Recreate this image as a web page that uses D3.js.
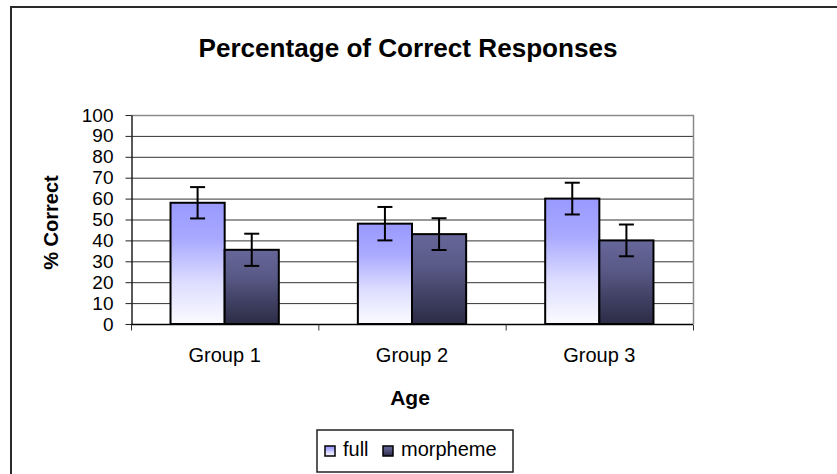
<!DOCTYPE html>
<meta charset="utf-8">
<style>
  body { margin: 0; background: #fff; }
  text { font-family: Arial, "Liberation Sans", sans-serif; }
</style>
<svg width="837" height="474"></svg>

<script src="https://d3js.org/d3.v7.min.js"></script>
<script>

var groups = ["Group 1", "Group 2", "Group 3"]
var series = ["full", "morpheme"]
var fullValues = [58, 48, 60]
var morphemeValues = [35.5, 43, 40]
var fullErrors = [7.5, 8, 7.6]
var morphemeErrors = [7.7, 7.6, 7.6]
var yTicks = [0, 10, 20, 30, 40, 50, 60, 70, 80, 90, 100]

var rows = []
groups.forEach(function (g, i) {
  rows.push({ group: g, key: "full", value: fullValues[i], err: fullErrors[i] })
  rows.push({ group: g, key: "morpheme", value: morphemeValues[i], err: morphemeErrors[i] })
})

var svg = d3.select("svg")
// note: "top" is taken by window.top, so plot edges get their own names
var plotLeft = 131, plotRight = 693, plotTop = 115, plotBottom = 324

// outer chart frame, runs off the right/bottom of the picture
svg.append("rect")
  .attr("x", 11).attr("y", 7)
  .attr("width", 900).attr("height", 600)
  .attr("fill", "none")
  .attr("stroke", "#2a2a2a")
  .attr("stroke-width", 2)

var defs = svg.append("defs")
function grad(id, stops) {
  var g = defs.append("linearGradient").attr("id", id)
    .attr("x1", 0).attr("y1", 0).attr("x2", 0).attr("y2", 1)
  stops.forEach(function (s) {
    g.append("stop").attr("offset", s[0]).attr("stop-color", s[1])
  })
}
grad("g-full", [[0, "#9999ff"], [0.3, "#a9a9ff"], [0.65, "#dcdcff"], [1, "#fbfbff"]])
grad("g-morpheme", [[0, "#666699"], [0.35, "#5a5a88"], [0.7, "#404063"], [1, "#2c2c46"]])
var fillFor = { full: "url(#g-full)", morpheme: "url(#g-morpheme)" }

var x0 = d3.scaleBand().domain(groups).range([plotLeft, plotRight])
var x1 = d3.scaleBand().domain(series).range([0, x0.bandwidth()]).paddingOuter(0.73)
var y = d3.scaleLinear().domain([0, 100]).range([plotBottom, plotTop])

// gridlines
svg.append("g").selectAll("line")
  .data(yTicks.slice(1, -1))
  .enter().append("line")
    .attr("x1", plotLeft).attr("x2", plotRight)
    .attr("y1", function (d) { return y(d) + 0.5 })
    .attr("y2", function (d) { return y(d) + 0.5 })
    .attr("stroke", "#333")
    .attr("stroke-width", 1)

// top and right of the plot box
svg.append("path")
  .attr("d", "M" + plotLeft + "," + (y(100) + 0.5) + "H" + (plotRight + 0.5) + "V" + plotBottom)
  .attr("fill", "none")
  .attr("stroke", "#8a8a8a")
  .attr("stroke-width", 1.5)

// bars
svg.append("g").selectAll("rect")
  .data(rows)
  .enter().append("rect")
    .attr("x", function (d) { return x0(d.group) + x1(d.key) })
    .attr("y", function (d) { return y(d.value) })
    .attr("width", x1.bandwidth())
    .attr("height", function (d) { return y(0) - y(d.value) })
    .attr("fill", function (d) { return fillFor[d.key] })
    .attr("stroke", "#000")
    .attr("stroke-width", 2)

// error bars
function barMid(d) { return x0(d.group) + x1(d.key) + x1.bandwidth() / 2 }
var eb = svg.append("g").selectAll("g")
  .data(rows)
  .enter().append("g")
    .attr("stroke", "#000")
    .attr("stroke-width", 2)
eb.append("line")
  .attr("x1", barMid)
  .attr("x2", barMid)
  .attr("y1", function (d) { return y(d.value + d.err) })
  .attr("y2", function (d) { return y(d.value - d.err) })
eb.selectAll(".cap")
  .data(function (d) { return [d.value + d.err, d.value - d.err].map(function (v) { return { d: d, v: v } }) })
  .enter().append("line")
    .attr("x1", function (c) { return barMid(c.d) - 7.5 })
    .attr("x2", function (c) { return barMid(c.d) + 7.5 })
    .attr("y1", function (c) { return y(c.v) })
    .attr("y2", function (c) { return y(c.v) })

// y axis
var yAxis = svg.append("g")
  .attr("transform", "translate(" + (plotLeft + 0.5) + ",0)")
  .call(d3.axisLeft(y).tickValues(yTicks).tickSize(6).tickPadding(12).tickSizeOuter(0))
yAxis.select(".domain").attr("stroke", "#222").attr("stroke-width", 1.5)
yAxis.selectAll(".tick line").attr("stroke", "#222")
yAxis.selectAll("text").attr("font-size", 19).attr("fill", "#000")
  .style("font-family", "Arial, 'Liberation Sans', sans-serif")

// x axis: ticks between the groups
var xAxis = svg.append("g")
  .attr("transform", "translate(0," + (plotBottom + 0.5) + ")")
xAxis.append("line")
  .attr("x1", plotLeft).attr("x2", plotRight)
  .attr("stroke", "#000").attr("stroke-width", 1.5)
xAxis.selectAll(".tk")
  .data(groups.concat(["end"]))
  .enter().append("line")
    .attr("x1", function (d, i) { return (i < groups.length ? x0(d) : plotRight) + 0.5 })
    .attr("x2", function (d, i) { return (i < groups.length ? x0(d) : plotRight) + 0.5 })
    .attr("y1", 0).attr("y2", 6)
    .attr("stroke", "#333")
xAxis.selectAll("text")
  .data(groups)
  .enter().append("text")
    .attr("x", function (d) { return x0(d) + x0.bandwidth() / 2 })
    .attr("y", 37)
    .attr("text-anchor", "middle")
    .attr("font-size", 20)
    .text(function (d) { return d })

// titles
svg.append("text")
  .attr("x", 408).attr("y", 57)
  .attr("text-anchor", "middle")
  .attr("font-size", 25).attr("font-weight", "bold")
  .attr("textLength", 419).attr("lengthAdjust", "spacingAndGlyphs")
  .text("Percentage of Correct Responses")

svg.append("text")
  .attr("x", 410).attr("y", 405)
  .attr("text-anchor", "middle")
  .attr("font-size", 21).attr("font-weight", "bold")
  .text("Age")

svg.append("text")
  .attr("transform", "translate(58," + ((plotTop + plotBottom) / 2 + 3) + ") rotate(-90)")
  .attr("text-anchor", "middle")
  .attr("font-size", 20).attr("font-weight", "bold")
  .text("% Correct")

// legend
var legend = svg.append("g")
legend.append("rect")
  .attr("x", 317).attr("y", 430)
  .attr("width", 196).attr("height", 42)
  .attr("fill", "#fff").attr("stroke", "#222").attr("stroke-width", 1.5)
var legendX = [325, 383]
var item = legend.selectAll(".item")
  .data(series)
  .enter().append("g")
    .attr("transform", function (d, i) { return "translate(" + legendX[i] + ",446)" })
item.append("rect")
  .attr("width", 10).attr("height", 10)
  .attr("fill", function (d) { return fillFor[d] })
  .attr("stroke", "#000").attr("stroke-width", 1.5)
item.append("text")
  .attr("x", 18).attr("y", 10)
  .attr("font-size", 20)
  .text(function (d) { return d })

</script>
